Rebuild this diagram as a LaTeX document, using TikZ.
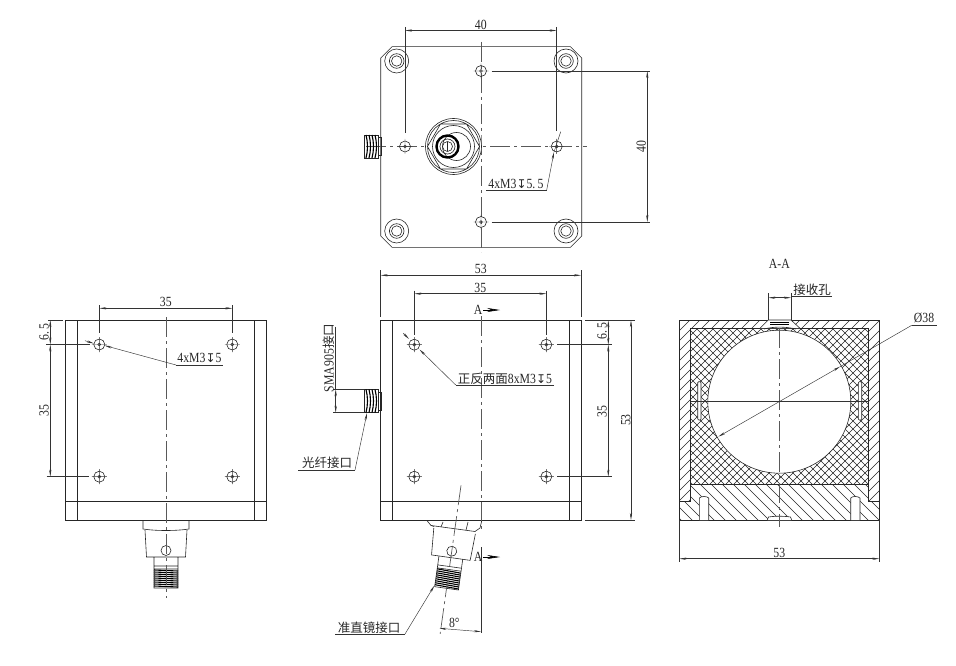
\documentclass[tikz,border=0pt]{standalone}
\usepackage{fontspec}
\setmainfont{Liberation Serif}[FakeStretch=0.84]
\newfontfamily\cjk{Noto Sans CJK SC}
\newfontfamily\sym{DejaVu Sans}
\usetikzlibrary{arrows.meta,calc}
\newcommand{\deepmark}{{\sym\fontsize{12}{12}\selectfont ↧}}
\tikzset{
	outline/.style={black!85,line width=.6pt},
	thin line/.style={black!80,line width=.45pt},
	dimline/.style={thin line,<->},
	centerline/.style={black!65,line width=.7pt,dash pattern=on 20pt off 4pt on 3pt off 4pt},
	hatchline/.style={black!85,line width=.45pt},
	dimtext/.style={inner sep=0pt,font=\fontsize{14}{14}\selectfont,text=black!85},
	cjktext/.style={inner sep=0pt,font=\cjk\fontsize{12.5}{13}\selectfont,text=black!85},
	sectionmark/.style={line width=.6pt,-{Stealth[length=13pt,width=4pt]}}
}
% mounting hole with its centre cross
\newcommand{\holemark}[1]{
	\draw[outline] (#1) circle (5.5);
	\draw[thin line] (#1) circle (1.6)
		($(#1)+(-7.5,0)$)--($(#1)+(7.5,0)$) ($(#1)+(0,-7.5)$)--($(#1)+(0,7.5)$);
}
% side port, threads to the left
\newcommand{\smaport}[1]{
	\begin{scope}[shift={(364,#1)}]
		\draw[outline] (0,-11.5) rectangle (14,11.5) (14,-9)--(17,-9)--(17,9)--(14,9);
		\foreach \x in {2,5,8,11}
			\draw[line width=1.1pt] (\x,-11.5) .. controls (\x+2,-4) and (\x+2,4) .. (\x,11.5);
	\end{scope}
}
% collimator port, y goes down from the base
\newcommand{\collimator}{
	\draw[outline] (-21,10)--(-19.5,37)--(19.5,37)--(21,10)
		(-12,37)--(-12,46)--(12,46)--(12,37) (-12,46)--(-12,49) (12,46)--(12,49)
		(-12,49) rectangle (12,68);
	\draw[outline] (0,30.5) circle (5);
	\foreach \y in {50,52,...,67}
		\draw[line width=1.1pt] (-12,\y)--(12,\y+1);
}

\begin{document}
\begin{tikzpicture}[x=1pt,y=-1pt,>={Stealth[length=7pt,width=2.2pt]}]
	\useasboundingbox (0,0) rectangle (956,666);
	
	%%%% top view
	\coordinate (Tc) at (481,146.5);   % centre of the plate
	\coordinate (Tp) at (453.5,146.5); % the big connector
	\coordinate (Ta) at (405,146.5);
	\coordinate (Tb) at (556.7,146.5);
	\coordinate (Tu) at (481,71);
	\coordinate (Td) at (481,222);
	
	\draw[outline] (392,46.7)--(570.5,46.7)--(581.7,58)--(581.7,236)--(570.5,247.3)
		--(392,247.3)--(380.7,236)--(380.7,58)--cycle;
	\foreach \x/\y in {396.7/61,566/61,396.7/231,566/231}
		\draw[outline] (\x,\y) circle (12) (\x,\y) circle (7.3) (\x,\y) circle (5.2);
	\draw[centerline] (481,42)--(Tc)--(481,252) (366,146.5)--(587,146.5);
	\foreach \p in {Ta,Tb,Tu,Td} {\holemark{\p}}
	
	\fill[white] (Tp) circle (28);
	\draw[outline] (Tp) circle (28) (Tp) circle (26)
		($(Tp)+(26,0)$)--($(Tp)+(13,22.5)$)--($(Tp)+(-13,22.5)$)--($(Tp)+(-26,0)$)
		--($(Tp)+(-13,-22.5)$)--($(Tp)+(13,-22.5)$)--cycle;
	\draw[outline] (Tp) circle (21);
	\draw[outline] ($(Tp)+(3,0)$) circle (14);
	\draw[line width=2.4pt] ($(Tp)+(-6,0)$) circle (11);
	\draw[outline] ($(Tp)+(-6,0)$) circle (7.5) ($(Tp)+(-6,0)$) circle (5)
		($(Tp)+(-6,-5)$)--($(Tp)+(-6,5)$);
	\smaport{146.5}
	
	\draw[dimline] (Ta |- 0,30.5)--(Tb |- 0,30.5) node[dimtext,midway,above=1pt] (top40) {40};
	\draw[thin line] (405,27)--(405,133) (556.7,27)--(556.7,131);
	\draw[dimline] (647.3,71)--(647.3,222) node[dimtext,midway,rotate=90,above=1pt] (right40) {40};
	\draw[thin line] (491.7,71)--(650,71) (491.7,222)--(650,222);
	\node[dimtext] (tophole) at (516,184) {4xM3\deepmark5.\,5};
	\coordinate (Tl) at (546.7,190);
	\draw[thin line] (486,190)--(Tl);
	\draw[thin line,->] (Tl)--(554,152);
	\draw[thin line] (554,152)--(560.7,131.7);
	
	%%%% left view
	\draw[outline] (65.7,320) rectangle (266.7,520) (77.3,320)--(77.3,520) (254.3,320)--(254.3,520)
		(65.7,501.3)--(266.7,501.3);
	\coordinate (La) at (99.3,344.5);
	\coordinate (Lb) at (232.3,344.5);
	\coordinate (Lc) at (99.3,476.7);
	\coordinate (Ld) at (232.3,476.7);
	\foreach \p in {La,Lb,Lc,Ld} {\holemark{\p}}
	\begin{scope}[shift={(166,520)}]
		\draw[outline] (-23,0)--(-23,9) .. controls (-10,11) and (10,11) .. (23,9)--(23,0);
		\collimator
	\end{scope}
	\draw[centerline] (166,317)--(166,598);
	
	\draw[dimline] (La |- 0,308.3)--(Lb |- 0,308.3) node[dimtext,midway,above=1pt] (left35) {35};
	\draw[thin line] (99.3,305)--(99.3,333) (232.3,305)--(232.3,333);
	\draw[thin line] (48,320)--(62.7,320) (46,344.5)--(90,344.5) (46.7,476.7)--(89.3,476.7);
	\draw[dimline] (50.3,320)--(50.3,344.5);
	\draw[dimline] (50.3,344.5)--(50.3,476.7);
	\node[dimtext,rotate=90] (left65) at (44,332) {6.\,5};
	\node[dimtext,rotate=90] (left35b) at (44,410.7) {35};
	\coordinate (Ll) at (176,365);
	\draw[thin line] (222.7,365)--(Ll);
	\draw[thin line,->] (Ll)--(104.5,345.5);
	\draw[thin line,<-] (94,343.5)--(85,340.7);
	\node[dimtext] (lefthole) at (199.5,358) {4xM3\deepmark5};
	
	%%%% front view
	\draw[outline] (380.7,320.3) rectangle (581,520) (392,320.3)--(392,520) (569.3,320.3)--(569.3,520)
		(380.7,501.3)--(581,501.3);
	\coordinate (Fa) at (414.3,344.7);
	\coordinate (Fb) at (546.3,344.7);
	\coordinate (Fc) at (414.3,476.7);
	\coordinate (Fd) at (546.3,476.7);
	\foreach \p in {Fa,Fb,Fc,Fd} {\holemark{\p}}
	\smaport{401}
	\draw[centerline] (481,316)--(481,529);
	\draw[thin line] (481,547)--(481,633);
	
	% tilted port
	\draw[outline] (427.3,521)--(431,525.5)--(475,531.5)--(480,528)--(481.7,521);
	\draw[outline] (431,525.5)--(434,526.5) (443,522)--(441,527) (468,522)--(466,530);
	\begin{scope}[shift={(456,521)},rotate=-8]
		\collimator
		\draw[centerline] (0,-36)--(0,114);
	\end{scope}
	
	\draw[dimline] (380.7,275.3)--(581,275.3) node[dimtext,midway,above=1pt] (front53) {53};
	\draw[thin line] (380.7,270)--(380.7,317) (581,270)--(581,317);
	\draw[dimline] (Fa |- 0,293.7)--(Fb |- 0,293.7) node[dimtext,midway,above=1pt] (front35) {35};
	\draw[thin line] (414.3,290.7)--(414.3,335) (546.3,290.7)--(546.3,335);
	
	\draw[thin line] (585,320.3)--(635,320.3) (557,344.7)--(612,344.7) (557,476.7)--(612,476.7)
		(585,520)--(635,520);
	\draw[dimline] (608.3,320.3)--(608.3,344.7);
	\draw[dimline] (608.3,344.7)--(608.3,476.7);
	\draw[dimline] (631,320.3)--(631,520);
	\node[dimtext,rotate=90] (front65) at (602,331) {6.\,5};
	\node[dimtext,rotate=90] (front35b) at (602,411.7) {35};
	\node[dimtext,rotate=90] (front53b) at (625.7,420) {53};
	
	\coordinate (Fl) at (455.7,385);
	\draw[thin line] (554,385)--(Fl);
	\draw[thin line,->] (Fl)--(419.5,349.5);
	\draw[thin line,<-] (409,339)--(403.3,333.3);
	\node[cjktext] (fronthole) at (505,378.5) {正反两面\fontsize{14}{14}\rmfamily 8xM3\deepmark5};
	
	\node[dimtext] (markup) at (478,310) {A};
	\draw[sectionmark] (483,310)--(500,310);
	\node[dimtext] (markdown) at (478,557) {A};
	\draw[sectionmark] (483,557)--(500,557);
	
	% port labels
	\draw[thin line] (333,389.3)--(364,389.3) (333,412.7)--(364,412.7);
	\draw[dimline] (335.7,389.3)--(335.7,412.7);
	\draw[thin line] (335.7,326.7)--(335.7,389.3);
	\node[cjktext,rotate=90] (smatext) at (329,358) {\fontsize{14}{14}\rmfamily SMA905\cjk\fontsize{12.5}{13}\selectfont 接口};
	\node[cjktext] (fibertext) at (327,463) {光纤接口};
	\coordinate (Fi) at (355,470);
	\draw[thin line] (298.3,470)--(Fi);
	\draw[thin line,->] (Fi)--(367,413);
	\node[cjktext] (colltext) at (369,627.5) {准直镜接口};
	\coordinate (Co) at (405,634);
	\draw[thin line] (335,634)--(Co);
	\draw[thin line,->] (Co)--(434.3,585.7);
	\coordinate (Aa) at (439.3,628.3);
	\coordinate (Ab) at (481,631.7);
	\draw[dimline] (Aa)--(Ab);
	\node[dimtext] (angle) at (454.3,622.5) {8°};
	
	%%%% section A-A
	\node[dimtext] (sectitle) at (779.3,264) {A-A};
	\coordinate (Sc) at (779.3,401.7);
	
	% walls
	\begin{scope}
		\clip (679.3,320)--(879.3,320)--(879.3,501.7)--(868.7,501.7)--(868.7,328.3)
			--(690.7,328.3)--(690.7,501.7)--(679.3,501.7)--cycle;
		\foreach \x in {460,470,...,880}
			\draw[hatchline] (\x,520)--(\x+210,310);
	\end{scope}
	% base
	\begin{scope}
		\clip (690.7,484.3)--(868.7,484.3)--(868.7,501.7)--(879.3,501.7)--(879.3,520)
			--(679.3,520)--(679.3,501.7)--(690.7,501.7)--cycle;
		\foreach \x in {630,641,...,880}
			\draw[hatchline] (\x,480)--(\x+45,525);
	\end{scope}
	% cross hatched body
	\begin{scope}
		\clip (690.7,328.3) rectangle (868.7,484.3);
		\foreach \x in {520,528,...,870}
			\draw[hatchline] (\x,490)--(\x+170,320);
		\foreach \x in {520,528,...,870}
			\draw[hatchline] (\x,320)--(\x+170,490);
	\end{scope}
	
	\draw[outline,fill=white] (Sc) circle (71.5);
	\draw[outline] (679.3,320) rectangle (879.3,520)
		(690.7,328.3)--(868.7,328.3) (690.7,328.3)--(690.7,501.7) (868.7,328.3)--(868.7,501.7)
		(679.3,501.7)--(690.7,501.7) (868.7,501.7)--(879.3,501.7) (690.7,484.3)--(868.7,484.3);
	% slots, screws
	\draw[outline,fill=white,rounded corners=1pt] (697.7,381.7) rectangle (701,420);
	\draw[outline,fill=white,rounded corners=1pt] (858.3,381.7) rectangle (861.7,420);
	\draw[outline,fill=white] (699.3,520)--(699.3,498) .. controls (701,496) and (707,496) .. (708.7,498)--(708.7,520);
	\draw[outline,fill=white] (850.7,520)--(850.7,498) .. controls (852,496) and (858,496) .. (860,498)--(860,520);
	\draw[outline,fill=white] (767.3,520)--(768.5,517) .. controls (775,516) and (784,516) .. (790.5,517)--(791.7,520);
	% receiving window
	\draw[outline,fill=white] (760,328.3)--(768.3,320)--(791,320)--(800,328.3)--cycle;
	\draw[line width=.9pt] (770,322)--(789,322) (770,324.5)--(789,324.5);
	\draw[outline] (764,329) .. controls (774,326.5) and (785,326.5) .. (796,329);
	
	\draw[centerline] (779.3,328)--(Sc)--(779.3,527);
	\draw[thin line] (690.7,401.7)--(868.7,401.7);
	
	\coordinate (Sl) at (911.7,325.3);
	\draw[thin line] (936.7,325.3)--(Sl);
	\draw[thin line,<->] (840,366.7)--(718.3,436.7);
	\draw[thin line] (Sl)--(840,366.7);
	\node[dimtext] (dia) at (924,318) {Ø38};
	
	\draw[thin line] (768.3,293.3)--(768.3,320) (791,293.3)--(791,320);
	\draw[dimline] (768.3,297.7)--(791,297.7);
	\draw[thin line] (791,296.7)--(831.7,296.7);
	\node[cjktext] (recvtext) at (812,289.5) {接收孔};
	
	\draw[thin line] (679.3,520)--(679.3,562) (879.3,520)--(879.3,562);
	\draw[dimline] (679.3,558.7)--(879.3,558.7) node[dimtext,midway,above=1pt] (sec53) {53};
	
\end{tikzpicture}
\end{document}
